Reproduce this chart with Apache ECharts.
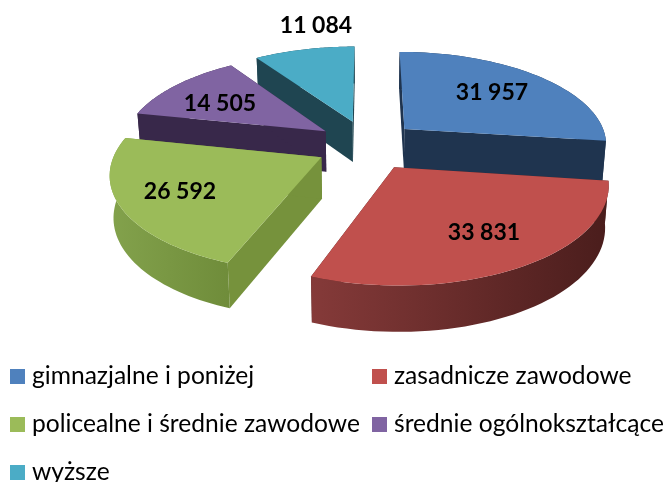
<!DOCTYPE html>
<html>
<head>
<meta charset="utf-8">
<style>
  html, body { margin: 0; padding: 0; background: #fff; }
  #chartDom { width: 667px; height: 482px; }
</style>
<script src="https://cdn.jsdelivr.net/npm/echarts@6/dist/echarts.min.js"></script>
</head>
<body>
<div id="chartDom"></div>
<script>
const categories = ['gimnazjalne i poniżej', 'zasadnicze zawodowe', 'policealne i średnie zawodowe', 'średnie ogólnokształcące', 'wyższe'];
const values = [31957, 33831, 26592, 14505, 11084];
const colors = ['#4f81bd', '#c0504d', '#9bbb59', '#8064a2', '#4bacc6'];
const sideColors = ['#1f344f', '#4d2120', '#76923c', '#38284a', '#1f4551'];
const arcLeftColors = ['#1f344f', '#853a39', '#83a24c', '#38284a', '#1f4551'];
const arcRightColors = ['#1f344f', '#4a1d1c', '#6f8c3a', '#38284a', '#1f4551'];

// paint order, back to front
const drawOrder = [3, 4, 2, 1, 0];
const labelPos = [[492, 93], [484, 233], [180, 192], [220, 104], [316, 26]];
const legendPos = [[10, 364], [372, 364], [10, 412], [372, 412], [10, 460]];

// tilted pie projection
const cx = 367, cy = 145, rx = 204, ry = 93, persp = 0.15, depth = 41, shrink = 0.985;
const explodeU = 0.25, explodeV = 0.27;

const total = values.reduce(function (a, b) { return a + b; }, 0);

function project(u, v, low) {
  const s = 1 / (1 + persp * v);
  let x = cx + rx * u * s;
  let y = cy - ry * v * s;
  if (low) {
    x = cx + (x - cx) * shrink;
    y += depth * Math.pow(s, 0.6);
  }
  return [x, y];
}

function sliceShapes(idx) {
  let before = 0;
  for (let i = 0; i < idx; i++) before += values[i];
  const a0 = before / total * Math.PI * 2;
  const a1 = (before + values[idx]) / total * Math.PI * 2;
  const mid = (a0 + a1) / 2;
  const ou = Math.sin(mid) * explodeU, ov = Math.cos(mid) * explodeV;

  const rimTop = [], rimLow = [];
  const steps = 48;
  for (let i = 0; i <= steps; i++) {
    const a = a0 + (a1 - a0) * i / steps;
    rimTop.push(project(ou + Math.sin(a), ov + Math.cos(a), false));
    rimLow.push(project(ou + Math.sin(a), ov + Math.cos(a), true));
  }
  const apexTop = project(ou, ov, false), apexLow = project(ou, ov, true);
  const side = sideColors[idx];

  function poly(points, fill) {
    return { type: 'polygon', shape: { points: points }, style: { fill: fill }, silent: true };
  }
  return [
    poly([apexTop, rimTop[0], rimLow[0], apexLow], side),
    poly([apexTop, rimTop[steps], rimLow[steps], apexLow], side),
    poly(rimTop.concat(rimLow.slice().reverse()), new echarts.graphic.LinearGradient(0, 0, 1, 0, [
      { offset: 0, color: arcLeftColors[idx] },
      { offset: 1, color: arcRightColors[idx] }
    ])),
    poly([apexTop].concat(rimTop), colors[idx]),
    {
      type: 'text',
      z2: 10,
      style: {
        text: String(values[idx]).replace(/\B(?=(\d{3})+$)/g, ' '),
        x: labelPos[idx][0],
        y: labelPos[idx][1],
        align: 'center',
        verticalAlign: 'middle',
        fill: '#000',
        font: 'bold 23px Lato'
      }
    }
  ];
}

const chart = echarts.init(document.getElementById('chartDom'), null, { renderer: 'canvas' });

chart.setOption({
  animation: false,
  legend: categories.map(function (name, i) {
    return {
      data: [name],
      left: legendPos[i][0],
      top: legendPos[i][1],
      padding: 0,
      itemWidth: 15,
      itemHeight: 15,
      itemGap: 0,
      icon: 'rect',
      selectedMode: false,
      textStyle: { fontFamily: 'Lato', fontSize: 24.6, color: '#000', padding: [0, 0, 0, 2] }
    };
  }),
  series: categories.map(function (name, i) {
    return {
      type: 'custom',
      name: name,
      coordinateSystem: 'none',
      z: 2 + drawOrder[i],
      itemStyle: { color: colors[i] },
      data: [values[i]],
      renderItem: function () {
        return { type: 'group', children: sliceShapes(i) };
      }
    };
  })
});
</script>
</body>
</html>
